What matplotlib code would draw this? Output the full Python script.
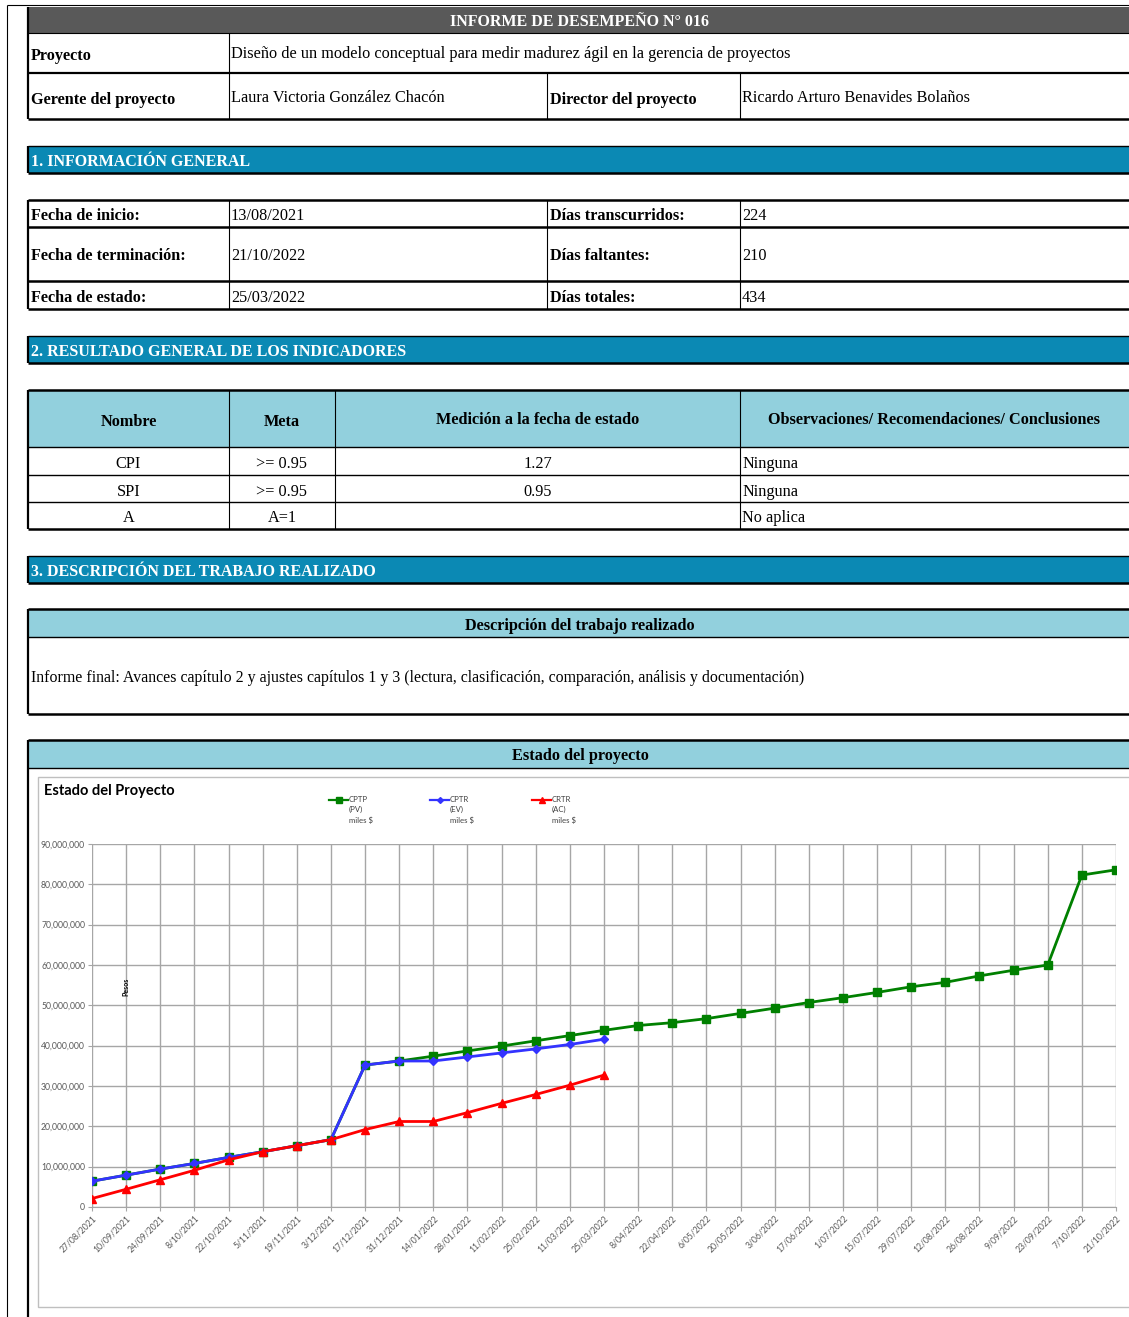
import matplotlib
matplotlib.use("Agg")
import matplotlib.pyplot as plt
from matplotlib.patches import Rectangle
from matplotlib.ticker import FuncFormatter

# chart data (pesos)
fechas = ["27/08/2021", "10/09/2021", "24/09/2021", "8/10/2021", "22/10/2021",
          "5/11/2021", "19/11/2021", "3/12/2021", "17/12/2021", "31/12/2021",
          "14/01/2022", "28/01/2022", "11/02/2022", "25/02/2022", "11/03/2022",
          "25/03/2022", "8/04/2022", "22/04/2022", "6/05/2022", "20/05/2022",
          "3/06/2022", "17/06/2022", "1/07/2022", "15/07/2022", "29/07/2022",
          "12/08/2022", "26/08/2022", "9/09/2022", "23/09/2022", "7/10/2022",
          "21/10/2022"]
cptp_pv = [6.4e6, 7.9e6, 9.4e6, 10.8e6, 12.3e6, 13.7e6, 15.2e6, 16.7e6, 35.2e6, 36.2e6,
           37.4e6, 38.7e6, 39.9e6, 41.2e6, 42.5e6, 43.8e6, 45.0e6, 45.7e6, 46.7e6, 48.0e6,
           49.3e6, 50.7e6, 51.9e6, 53.2e6, 54.6e6, 55.7e6, 57.3e6, 58.7e6, 60.0e6, 82.3e6,
           83.6e6]
cptr_ev = [6.4e6, 7.9e6, 9.4e6, 10.8e6, 12.3e6, 13.7e6, 15.2e6, 16.7e6, 35.2e6, 36.2e6,
           36.2e6, 37.2e6, 38.2e6, 39.2e6, 40.3e6, 41.6e6]
crtr_ac = [2.1e6, 4.4e6, 6.75e6, 9.1e6, 11.7e6, 13.7e6, 15.2e6, 16.7e6, 19.2e6, 21.2e6,
           21.2e6, 23.4e6, 25.7e6, 27.9e6, 30.2e6, 32.7e6]

# form texts
info_rows = [("Fecha de inicio:", "13/08/2021", "Días transcurridos:", "224"),
             ("Fecha de terminación:", "21/10/2022", "Días faltantes:", "210"),
             ("Fecha de estado:", "25/03/2022", "Días totales:", "434")]
ind_header = ["Nombre", "Meta", "Medición a la fecha de estado",
              "Observaciones/ Recomendaciones/ Conclusiones"]
ind_nombre = ["CPI", "SPI", "A"]
ind_meta = [">= 0.95", ">= 0.95", "A=1"]
ind_medicion = ["1.27", "0.95", ""]
ind_obs = ["Ninguna", "Ninguna", "No aplica"]

W, H = 1129, 1317
TEAL = "#0B89B4"
LIGHT = "#92D0DD"
SERIF = "Liberation Serif"

fig = plt.figure(figsize=(W / 100, H / 100), dpi=100)
form = fig.add_axes([0, 0, 1, 1])
form.set_xlim(0, W)
form.set_ylim(H, 0)
form.axis("off")


def hline(y, x0=28, x1=W, lw=1.6, c="black"):
    form.plot([x0, x1], [y, y], color=c, lw=lw, solid_capstyle="butt")


def vline(x, y0, y1, lw=0.8, c="black"):
    form.plot([x, x], [y0, y1], color=c, lw=lw, solid_capstyle="butt")


def txt(x, y, s, bold=False, ha="left", color="black", size=11.7):
    form.text(x, y + 1.5, s, ha=ha, va="center", family=SERIF, fontsize=size,
              fontweight="bold" if bold else "normal", color=color)


def section(y0, y1, s):
    form.add_patch(Rectangle((28, y0), W - 28, y1 - y0, facecolor=TEAL, edgecolor="none"))
    hline(y0, lw=1.0)
    hline(y1, lw=1.8)
    vline(28, y0, y1, lw=1.6)
    txt(31, (y0 + y1) / 2 + 1, s, bold=True, color="white", size=11.5)


# page border
vline(7, 5, H, lw=0.8)
hline(5, x0=7, lw=0.8)

# title block
form.add_patch(Rectangle((28, 7), W - 28, 26, facecolor="#595959", edgecolor="none"))
txt(580, 20, "INFORME DE DESEMPEÑO N° 016", bold=True, ha="center", color="white", size=11.5)
hline(33, lw=0.8)
hline(73, lw=1.6)
hline(119, lw=1.8)
vline(28, 7, 119, lw=1.6)
vline(229, 33, 119)
vline(547, 73, 119)
vline(740, 73, 119)
txt(31, 54, "Proyecto", bold=True)
txt(231, 53, "Diseño de un modelo conceptual para medir madurez ágil en la gerencia de proyectos")
txt(31, 98, "Gerente del proyecto", bold=True)
txt(231, 96, "Laura Victoria González Chacón")
txt(550, 98, "Director del proyecto", bold=True)
txt(742, 96, "Ricardo Arturo Benavides Bolaños")

# 1. informacion general
section(146, 173, "1. INFORMACIÓN GENERAL")
row_y = [200, 227, 281, 309]
for y in row_y:
    hline(y, lw=1.8)
vline(28, 200, 309, lw=1.6)
for x in (229, 547, 740):
    vline(x, 200, 309)
for i, (a, b, c, d) in enumerate(info_rows):
    yc = (row_y[i] + row_y[i + 1]) / 2 + 1
    txt(31, yc, a, bold=True)
    txt(231, yc, b)
    txt(550, yc, c, bold=True)
    txt(742, yc, d)

# 2. indicadores
section(336, 363, "2. RESULTADO GENERAL DE LOS INDICADORES")
form.add_patch(Rectangle((28, 390), W - 28, 57, facecolor=LIGHT, edgecolor="none"))
cols = [28, 229, 335, 740, W]
for y, lw in ((390, 1.8), (447, 1.0), (475, 1.0), (502, 1.0), (529, 1.8)):
    hline(y, lw=lw)
vline(28, 390, 529, lw=1.6)
for x in cols[1:4]:
    vline(x, 390, 529)
hdr_y = [420, 420, 418, 418]
for j, h in enumerate(ind_header):
    txt((cols[j] + cols[j + 1]) / 2, hdr_y[j], h, bold=True, ha="center")
ind_rows_y = [462, 490, 517]
for i in range(3):
    yc = ind_rows_y[i]
    txt((cols[0] + cols[1]) / 2, yc, ind_nombre[i], ha="center")
    txt((cols[1] + cols[2]) / 2, yc, ind_meta[i], ha="center")
    txt((cols[2] + cols[3]) / 2, yc, ind_medicion[i], ha="center")
    txt(742, yc, ind_obs[i])

# 3. descripcion
section(556, 583, "3. DESCRIPCIÓN DEL TRABAJO REALIZADO")
form.add_patch(Rectangle((28, 609), W - 28, 28, facecolor=LIGHT, edgecolor="none"))
hline(609, lw=1.8)
hline(637, lw=1.0)
hline(714, lw=1.8)
vline(28, 609, 714, lw=1.6)
txt(580, 624, "Descripción del trabajo realizado", bold=True, ha="center")
txt(31, 676, "Informe final: Avances capítulo 2 y ajustes capítulos 1 y 3 (lectura, clasificación, "
             "comparación, análisis y documentación)", size=11.4)

# estado del proyecto box
form.add_patch(Rectangle((28, 740), W - 28, 28, facecolor=LIGHT, edgecolor="none"))
hline(740, lw=1.8)
hline(768, lw=1.0)
vline(28, 740, H, lw=1.6)
txt(580, 755, "Estado del proyecto", bold=True, ha="center")
form.add_patch(Rectangle((38, 777), W - 38 + 5, 530, facecolor="white",
                         edgecolor="#BFBFBF", lw=1.0))
form.text(44, 791, "Estado del Proyecto", ha="left", va="center", family="Lato",
          fontsize=10.5, fontweight="bold")

# legend drawn by hand
legend_items = [("CPTP\n(PV)\nmiles $", "#008000", "s", 339),
                ("CPTR\n(EV)\nmiles $", "#3333FF", "D", 440),
                ("CRTR\n(AC)\nmiles $", "#FF0000", "^", 542)]
for lab, col, mk, xc in legend_items:
    form.plot([xc - 10, xc + 9], [800, 800], color=col, lw=1.6)
    form.plot([xc], [800], marker=mk, color=col, ms=4 if mk != "D" else 3, mec=col)
    form.text(xc + 10, 795.5, lab, ha="left", va="top", family="Lato", fontsize=5.6,
              color="#404040", linespacing=1.55)

# chart
ax = fig.add_axes([92 / W, (H - 1207) / H, (1116 - 92) / W, (1207 - 844) / H])
x_all = list(range(len(fechas)))
x_part = x_all[:len(cptr_ev)]
ax.plot(x_all, cptp_pv, color="#008000", lw=2, marker="s", ms=5.5, zorder=3)
ax.plot(x_part, cptr_ev, color="#3333FF", lw=2, marker="D", ms=4, zorder=4)
ax.plot(x_part, crtr_ac, color="#FF0000", lw=2, marker="^", ms=5.5, zorder=5)
ax.set_xlim(0, len(fechas) - 1)
ax.set_ylim(0, 90e6)
ax.set_yticks([i * 10e6 for i in range(10)])
ax.yaxis.set_major_formatter(FuncFormatter(lambda v, p: f"{v:,.0f}"))
ax.set_xticks(x_all)
ax.set_xticklabels(fechas, rotation=45, ha="right", rotation_mode="anchor")
ax.tick_params(axis="both", labelsize=6.2, labelcolor="#595959", color="#A6A6A6",
               length=3, width=0.8, pad=2)
ax.grid(True, color="#A6A6A6", lw=1.0)
ax.set_axisbelow(True)
for side in ("top", "right", "left"):
    ax.spines[side].set_visible(False)
ax.spines["bottom"].set_color("#A6A6A6")
for t in ax.get_xticklabels() + ax.get_yticklabels():
    t.set_family("Lato")
fig.text(126 / W, 1 - 987 / H, "Pesos", rotation=90, ha="center", va="center",
         family="Lato", fontsize=5, fontweight="bold")

fig.savefig("out.png", dpi=100)
